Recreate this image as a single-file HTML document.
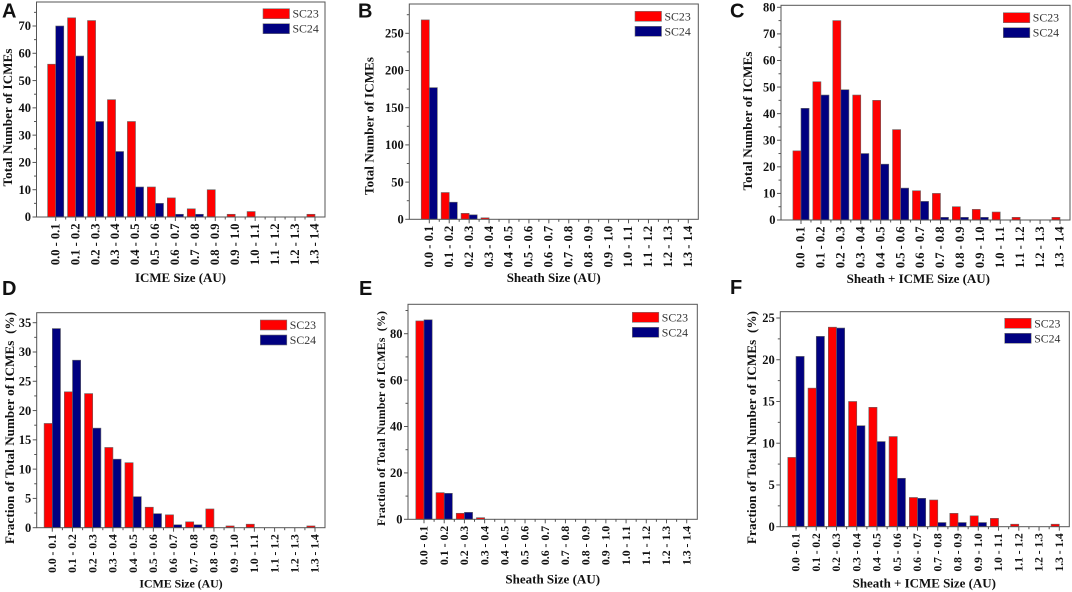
<!DOCTYPE html>
<html lang="en">
<head>
<meta charset="utf-8">
<title>ICME, sheath and combined size distributions for SC23 and SC24</title>
<style>
  html, body { margin: 0; padding: 0; background: #fff; width: 1072px; height: 592px; overflow: hidden; }
  svg { display: block; filter: blur(0.35px); }
  text { font-family: "Liberation Serif", serif; fill: #111; }
  .tick { font-weight: bold; font-size: 12.5px; }
  .title { font-weight: bold; font-size: 13px; white-space: pre; }
  .legend { font-size: 11.8px; fill: #333; }
  .letter { font-family: "Liberation Sans", sans-serif; font-weight: bold; font-size: 20px; fill: #111; }
</style>
</head>
<body>
<svg id="figure" xmlns="http://www.w3.org/2000/svg" width="1072" height="592" viewBox="0 0 1072 592"></svg>
<script>
// ---- Data ----
const categories = ["0.0 - 0.1","0.1 - 0.2","0.2 - 0.3","0.3 - 0.4","0.4 - 0.5","0.5 - 0.6","0.6 - 0.7","0.7 - 0.8","0.8 - 0.9","0.9 - 1.0","1.0 - 1.1","1.1 - 1.2","1.2 - 1.3","1.3 - 1.4"];

const aSC23 = [56,73,72,43,35,11,7,3,10,1,2,0,0,1];
const aSC24 = [70,59,35,24,11,5,1,1,0,0,0,0,0,0];
const aTicks = [0,10,20,30,40,50,60,70];

const bSC23 = [268,36,8,2,0,0,0,0,0,0,0,0,0,0];
const bSC24 = [177,23,6,0,0,0,0,0,0,0,0,0,0,0];
const bTicks = [0,50,100,150,200,250];

const cSC23 = [26,52,75,47,45,34,11,10,5,4,3,1,0,1];
const cSC24 = [42,47,49,25,21,12,7,1,1,1,0,0,0,0];
const cTicks = [0,10,20,30,40,50,60,70,80];

const dSC23 = [17.8,23.2,22.9,13.7,11.1,3.5,2.2,1.0,3.2,0.3,0.6,0,0,0.3];
const dSC24 = [34,28.6,17,11.7,5.3,2.4,0.5,0.5,0,0,0,0,0,0];
const dTicks = [0,5,10,15,20,25,30,35];

const eSC23 = [85.5,11.5,2.6,0.7,0,0,0,0,0,0,0,0,0,0];
const eSC24 = [86,11.2,3,0,0,0,0,0,0,0,0,0,0,0];
const eTicks = [0,20,40,60,80];

const fSC23 = [8.3,16.6,23.9,15,14.3,10.8,3.5,3.2,1.6,1.3,1.0,0.3,0,0.3];
const fSC24 = [20.4,22.8,23.8,12.1,10.2,5.8,3.4,0.5,0.5,0.5,0,0,0,0];
const fTicks = [0,5,10,15,20,25];

const seriesNames = ["SC23","SC24"];
const seriesColors = ["#ff0000","#000080"];

// ---- Panel layout (geometry only; values come from the arrays above) ----
const panels = [
  {id:"a", letter:"A", lx:2,   ly:17.5, l:36.5, r:325,  t:2,   b:217,   refTick:70, refY:26,    c0:55.7,  c1:315,   red:aSC23, blue:aSC24, ticks:aTicks, xfs:12.5, lgx:263,   lgy:8.7,   xt:"ICME Size (AU)",         xtx:180.5, xty:282,   xtw:91,    xfsT:13, yt:"Total Number of ICMEs",            ytx:12,  yty:117.5, ytw:138, yfsT:13},
  {id:"b", letter:"B", lx:358, ly:17.5, l:409.3,r:698.3,t:4,   b:219.3, refTick:250,refY:33.3,  c0:429.3, c1:688.3, red:bSC23, blue:bSC24, ticks:bTicks, xfs:12.5, lgx:635,   lgy:11.3,  xt:"Sheath Size (AU)",       xtx:553.7, xty:282,   xtw:94,    xfsT:13, yt:"Total Number of ICMEs",            ytx:373.3,yty:126,  ytw:138, yfsT:13},
  {id:"c", letter:"C", lx:730, ly:17.5, l:781,  r:1070, t:5.3, b:220,   refTick:80, refY:7.3,   c0:801,   c1:1060,  red:cSC23, blue:cSC24, ticks:cTicks, xfs:12.5, lgx:1003.3,lgy:12.7,  xt:"Sheath + ICME Size (AU)",xtx:918.3, xty:283,   xtw:143.3, xfsT:13, yt:"Total Number of ICMEs",            ytx:752, yty:121,   ytw:139, yfsT:13},
  {id:"d", letter:"D", lx:2,   ly:295,  l:36.7, r:325,  t:312.7,b:527.7,refTick:35, refY:322.7, c0:52.3,  c1:315,   red:dSC23, blue:dSC24, ticks:dTicks, xfs:11.6, lgx:260.3, lgy:320,   xt:"ICME Size (AU)",         xtx:181,   xty:587.5, xtw:83.3,  xfsT:12, yt:"Fraction of Total Number of ICMEs  (%)",ytx:14,  yty:428,   ytw:232, yfsT:13},
  {id:"e", letter:"E", lx:359, ly:295,  l:408,  r:697.3,t:304.3,b:519.3,refTick:80, refY:333.7, c0:424,   c1:686.7, red:eSC23, blue:eSC24, ticks:eTicks, xfs:11.8, lgx:632.3, lgy:312.3, xt:"Sheath Size (AU)",       xtx:552.7, xty:583.5, xtw:94.7,  xfsT:13, yt:"Fraction of Total Number of ICMEs  (%)",ytx:385, yty:418.5, ytw:215, yfsT:12},
  {id:"f", letter:"F", lx:730, ly:294,  l:780.3,r:1069.3,t:311.7,b:526.7,refTick:25,refY:318,   c0:796,   c1:1059.3,red:fSC23, blue:fSC24, ticks:fTicks, xfs:11.5, lgx:1004.7,lgy:318.3, xt:"Sheath + ICME Size (AU)",xtx:924.3, xty:587.5, xtw:143.3, xfsT:13, yt:"Fraction of Total Number of ICMEs  (%)",ytx:756, yty:427.5, ytw:233, yfsT:13}
];

const NS = "http://www.w3.org/2000/svg";
const root = document.getElementById("figure");
const AXIS = "#555";

function make(tag, attrs, parent, text) {
  const el = document.createElementNS(NS, tag);
  for (const k in attrs) el.setAttribute(k, attrs[k]);
  if (text !== undefined) el.textContent = text;
  parent.appendChild(el);
  return el;
}

function yScale(p) {
  return v => p.b - (v / p.refTick) * (p.b - p.refY);
}
function xScale(p) {
  const step = (p.c1 - p.c0) / (categories.length - 1);
  return i => p.c0 + i * step;
}

function drawPanel(p) {
  const y = yScale(p), x = xScale(p);
  const step = (p.c1 - p.c0) / (categories.length - 1);
  const barW = step * 0.405;

  const g = make("g", {}, root);
  
  

  const letter = make("text", {x:p.lx, y:p.ly, class:"letter"}, g, p.letter);
  
  

  // bars
  [p.red, p.blue].forEach((vals, s) => {
    vals.forEach((v, i) => {
      if (v <= 0) return;
      const rect = make("rect", {
        x: s === 0 ? x(i) - barW : x(i),
        y: y(v),
        width: barW,
        height: p.b - y(v),
        fill: seriesColors[s],
        stroke: "#666",
        "stroke-width": 0.6
      }, g);
      
      
    });
  });

  // frame
  const frame = make("rect", {x:p.l, y:p.t, width:p.r-p.l, height:p.b-p.t, fill:"none", stroke:AXIS, "stroke-width":1}, g);
  
  

  // y ticks and labels
  const tickStep = p.ticks[1] - p.ticks[0];
  for (let v = 0; y(v) >= p.t; v += tickStep / 2) {
    const major = p.ticks.includes(v);
    make("line", {x1:p.l, x2:p.l-(major?4:2.5), y1:y(v), y2:y(v), stroke:AXIS, "stroke-width":1}, g);
  }
  p.ticks.forEach(v => {
    const label = make("text", {x:p.l-5.5, y:y(v)+4.2, "text-anchor":"end", class:"tick"}, g, String(v));
    
    
  });

  // x ticks and labels
  categories.forEach((c, i) => {
    make("line", {x1:x(i), x2:x(i), y1:p.b, y2:p.b+4, stroke:AXIS, "stroke-width":1}, g);
    if (i < categories.length - 1) {
      make("line", {x1:x(i)+step/2, x2:x(i)+step/2, y1:p.b, y2:p.b+2.5, stroke:AXIS, "stroke-width":1}, g);
    }
    const px = x(i) + 3.7, py = p.b + 6.5;
    const label = make("text", {x:px, y:py, "text-anchor":"end", class:"tick", style:"font-size:" + p.xfs + "px", transform:"rotate(-90 " + px + " " + py + ")"}, g, c);
    
    
  });

  // axis titles
  const xTitle = make("text", {x:p.xtx, y:p.xty, "text-anchor":"middle", class:"title", style:"font-size:" + p.xfsT + "px", textLength:p.xtw, lengthAdjust:"spacing"}, g, p.xt);
  
  
  const yTitle = make("text", {x:p.ytx, y:p.yty, "text-anchor":"middle", class:"title", style:"font-size:" + p.yfsT + "px", textLength:p.ytw, lengthAdjust:"spacing", transform:"rotate(-90 " + p.ytx + " " + p.yty + ")"}, g, p.yt);
  
  

  // legend
  seriesNames.forEach((name, s) => {
    const ly = p.lgy + s * 15;
    const entry = make("g", {}, g);
    
    
    make("rect", {x:p.lgx, y:ly, width:26.5, height:10, fill:seriesColors[s], stroke:"#777", "stroke-width":0.6}, entry);
    make("text", {x:p.lgx+29.5, y:ly+9, class:"legend"}, entry, name);
  });
}

panels.forEach(drawPanel);
</script>
</body>
</html>
